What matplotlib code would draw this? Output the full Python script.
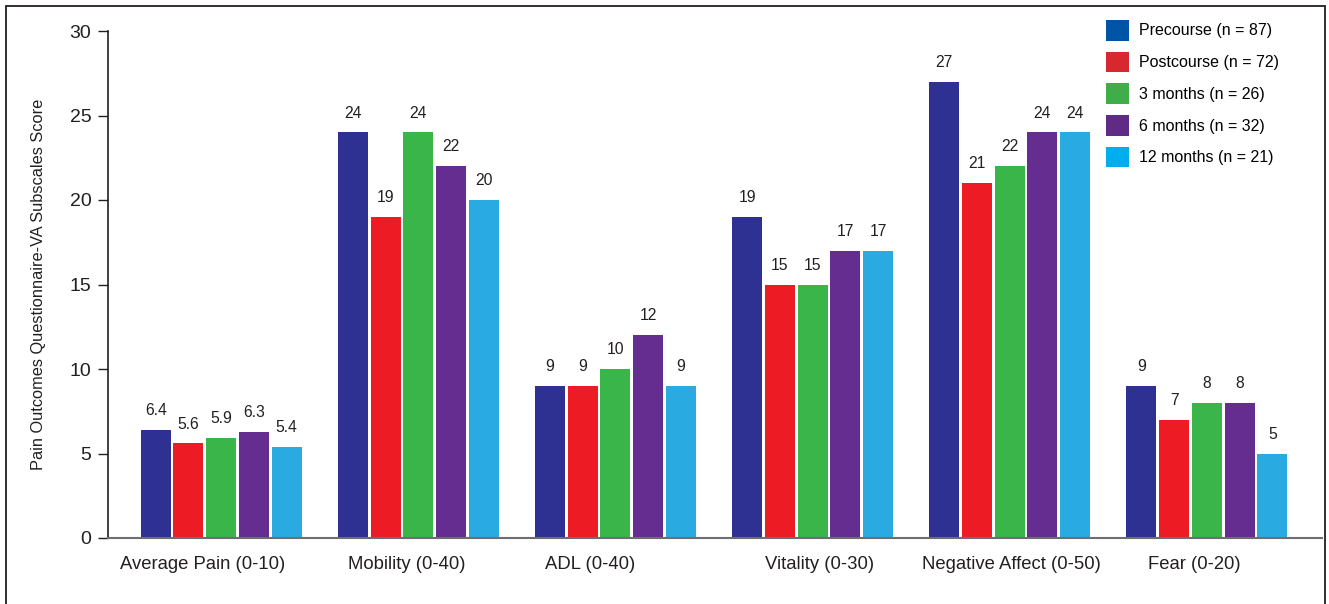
import matplotlib
matplotlib.use("Agg")
import matplotlib.pyplot as plt
from matplotlib.patches import Patch, Rectangle
import numpy as np

plt.rcParams['font.family'] = ['Liberation Sans', 'DejaVu Sans']

categories = ["Average Pain (0-10)", "Mobility (0-40)", "ADL (0-40)",
              "Vitality (0-30)", "Negative Affect (0-50)", "Fear (0-20)"]
series_names = ["Precourse (n = 87)", "Postcourse (n = 72)", "3 months (n = 26)",
                "6 months (n = 32)", "12 months (n = 21)"]
precourse = [6.4, 24, 9, 19, 27, 9]
postcourse = [5.6, 19, 9, 15, 21, 7]
months_3 = [5.9, 24, 10, 15, 22, 8]
months_6 = [6.3, 22, 12, 17, 24, 8]
months_12 = [5.4, 20, 9, 17, 24, 5]
series = [precourse, postcourse, months_3, months_6, months_12]
label_decimals = [1, 0, 0, 0, 0, 0]

bar_colors = ["#2e3192", "#ed1c24", "#39b54a", "#662d91", "#29abe2"]
legend_colors = ["#0054a6", "#d7282f", "#3fae49", "#5f2b85", "#00aeef"]
ink = "#231f20"

W, H = 1329, 604
fig = plt.figure(figsize=(W / 100, H / 100), dpi=100)
ax = fig.add_axes([108 / W, 1 - 538 / H, (1322 - 108) / W, (538 - 31) / H])

x = np.arange(len(categories))
pitch = 0.166
width = 0.152
for i, (vals, col) in enumerate(zip(series, bar_colors)):
    pos = x + (i - 2) * pitch
    ax.bar(pos, vals, width=width, color=col, zorder=2)
    for p, v, d in zip(pos, vals, label_decimals):
        ax.text(p, v + 0.7, f"{v:.{d}f}", ha="center", va="bottom", fontsize=11.3,
                color=ink)

ax.set_xlim(-0.574, 5.584)
ax.set_ylim(0, 30)
ax.set_yticks(range(0, 31, 5))
ax.tick_params(axis="y", direction="out", length=7, width=1, labelsize=14, pad=5,
               colors=ink)
ax.tick_params(axis="x", length=0, labelsize=13.3, pad=13, colors=ink)

# category captions sit a little off the group centres
caption_shift = np.array([-19, -12, -25, 7, 2, -13]) / 197
ax.set_xticks(x + caption_shift)
ax.set_xticklabels(categories)
ax.spines["top"].set_visible(False)
ax.spines["right"].set_visible(False)
ax.spines["left"].set_color(ink)
ax.spines["left"].set_linewidth(1.2)
ax.spines["bottom"].set_color("#6d6e71")
ax.spines["bottom"].set_linewidth(1.5)
ax.spines["bottom"].set_zorder(3)
ax.set_ylabel("Pain Outcomes Questionnaire-VA Subscales Score", fontsize=11.8,
              labelpad=17, color=ink)

handles = [Patch(facecolor=c, edgecolor="none") for c in legend_colors]
fig.legend(handles, series_names, loc="upper left",
           bbox_to_anchor=(1106 / W, 1 - 20 / H), bbox_transform=fig.transFigure,
           frameon=False, fontsize=11.5, handlelength=1.45, handleheight=1.6,
           handletextpad=0.6, labelspacing=0.7, borderpad=0, borderaxespad=0)

fig.add_artist(Rectangle((6 / W, -0.01), (1325 - 6) / W, 1.01 - 6 / H,
                         transform=fig.transFigure, fill=False,
                         edgecolor=ink, linewidth=1.3))

fig.savefig("out.png", dpi=100)
